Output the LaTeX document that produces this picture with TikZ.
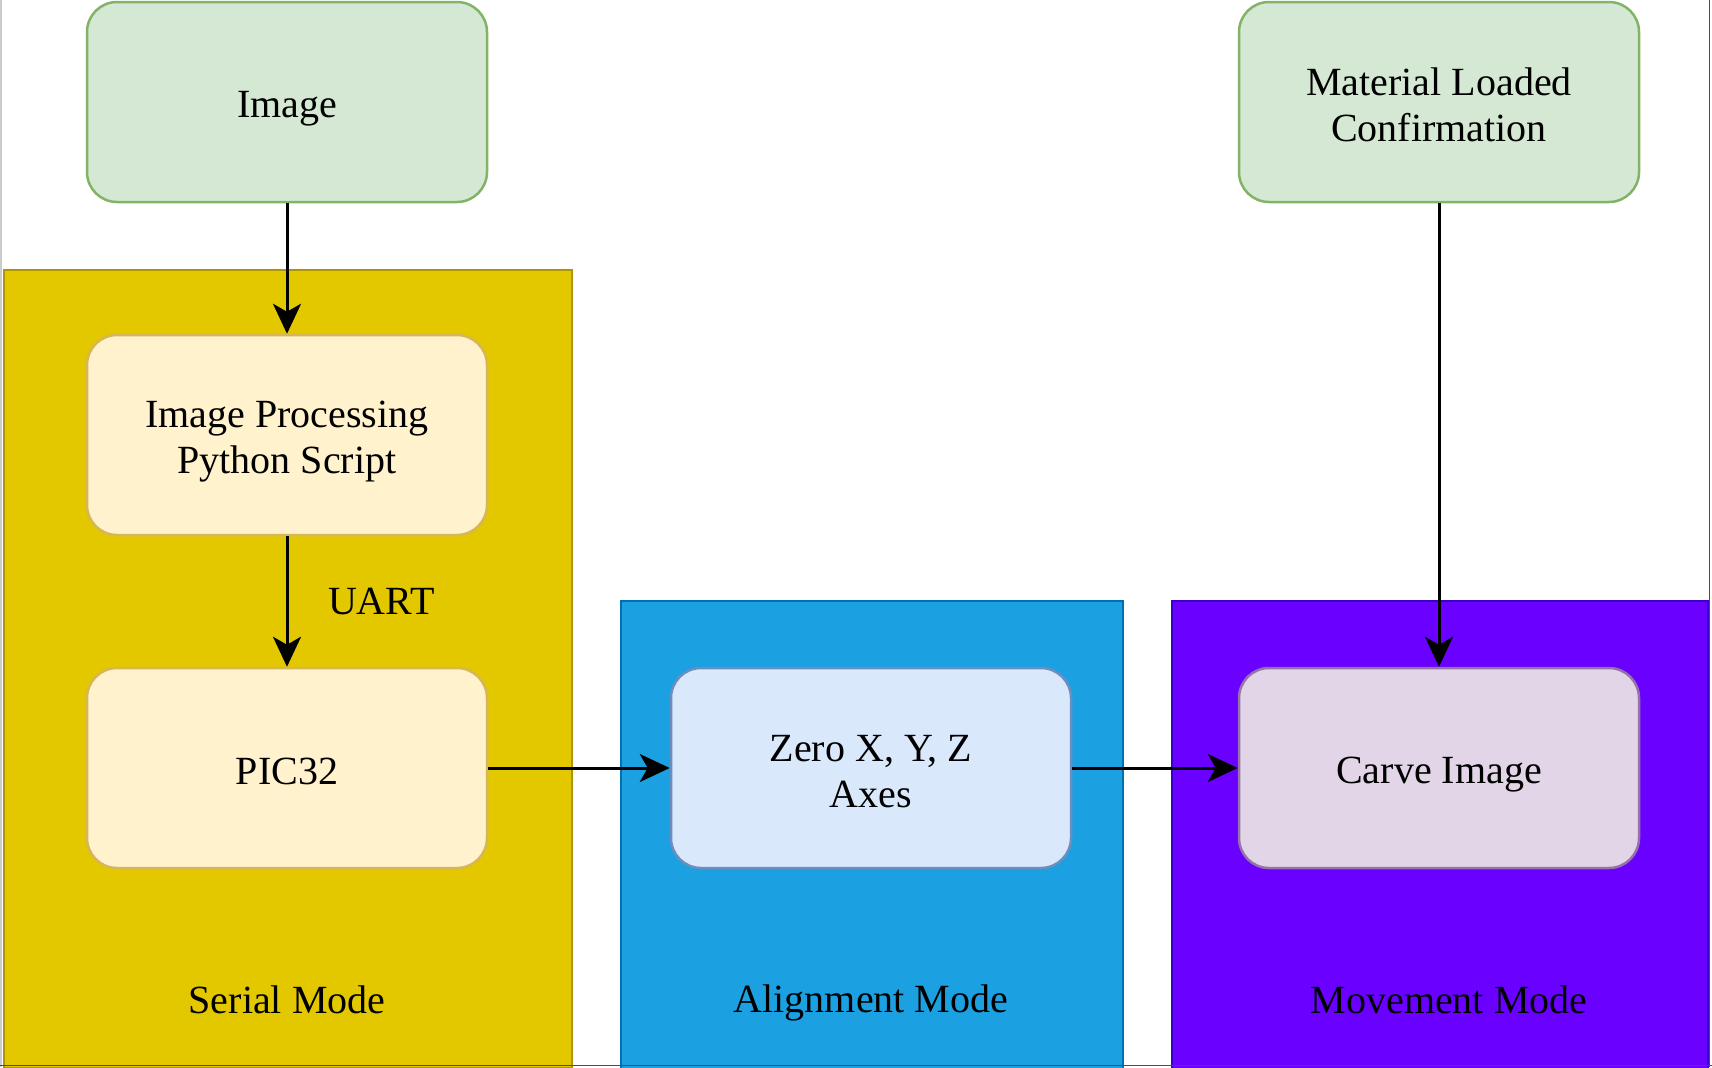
\documentclass[tikz,border=0pt]{standalone}
\usepackage{fontspec}
\setmainfont{Liberation Serif}
\usetikzlibrary{arrows.meta}
\definecolor{grfill}{HTML}{D5E8D4}
\definecolor{grline}{HTML}{82B366}
\definecolor{yefill}{HTML}{FFF2CC}
\definecolor{yeline}{HTML}{D6B656}
\definecolor{blfill}{HTML}{DAE8FC}
\definecolor{blline}{HTML}{6C8EBF}
\definecolor{pufill}{HTML}{E1D5E7}
\definecolor{puline}{HTML}{9673A6}
\definecolor{serfill}{HTML}{E3C800}
\definecolor{serline}{HTML}{B09500}
\definecolor{alifill}{HTML}{1BA1E2}
\definecolor{aliline}{HTML}{006EAF}
\definecolor{movfill}{HTML}{6A00FF}
\definecolor{movline}{HTML}{3700CC}
\newcommand{\tstrut}{\rule{0pt}{0.97em}}
\newcommand{\bstrut}{\rule[-0.14em]{0pt}{0.14em}}
\tikzset{
  txt/.style={font=\fontsize{20}{23}\selectfont, text=black, align=center},
  procbox/.style={txt, draw, line width=1.25pt, rounded corners=15pt,
    minimum width=200pt, minimum height=100pt, inner sep=0pt},
  container/.style={draw, line width=0.8pt, anchor=north west, inner sep=0pt},
  flow/.style={-{Stealth[length=15pt,width=14pt,inset=4pt]}, line width=1.5pt, black}
}
\begin{document}
\begin{tikzpicture}[x=0.5pt,y=-0.5pt]
\useasboundingbox (0,0) rectangle (1712,1067);
\fill[white] (0,0) rectangle (1712,1067);
% containers
\node (serial) [container, fill=serfill, draw=serline, minimum width=284pt, minimum height=399pt] at (3,269) {};
\node (align) [container, fill=alifill, draw=aliline, minimum width=251pt, minimum height=234pt] at (620,600) {};
\node (move) [container, fill=movfill, draw=movline, minimum width=268pt, minimum height=234pt] at (1171,600) {};
\node (seriallbl) [txt] at (287,997) {\tstrut Serial Mode\bstrut};
\node (alignlbl) [txt] at (871,997) {\tstrut Alignment Mode\bstrut};
\node (movelbl) [txt] at (1449,997) {\tstrut Movement Mode\bstrut};
% process boxes
\node (image) [procbox, fill=grfill, draw=grline] at (287,102) {\tstrut Image\bstrut};
\node (material) [procbox, fill=grfill, draw=grline] at (1439,102) {\tstrut Material Loaded\\Confirmation\bstrut};
\node (imgproc) [procbox, fill=yefill, draw=yeline] at (287,435) {\tstrut Image Processing\\Python Script\bstrut};
\node (pic) [procbox, fill=yefill, draw=yeline] at (287,768) {\tstrut PIC32\bstrut};
\node (zero) [procbox, fill=blfill, draw=blline] at (871,768) {\tstrut Zero X, Y, Z\\Axes\bstrut};
\node (carve) [procbox, fill=pufill, draw=puline] at (1439,768) {\tstrut Carve Image\bstrut};
% connectors
\draw[flow] (image) -- (imgproc);
\draw[flow] (imgproc) -- (pic);
\node (uart) [txt, anchor=base west] at (321,614) {UART};
\draw[flow] (pic) -- (zero);
\draw[flow] (zero) -- (carve);
\draw[flow] (material) -- (carve);
% page frame
\draw[black!20, line width=1pt] (0.8,0) -- (0.8,1067);
\draw[black!70, line width=0.7pt] (1709.5,0) -- (1709.5,1067);
\draw[black!70, line width=0.7pt] (0,1065.5) -- (1712,1065.5);
\end{tikzpicture}
\end{document}
